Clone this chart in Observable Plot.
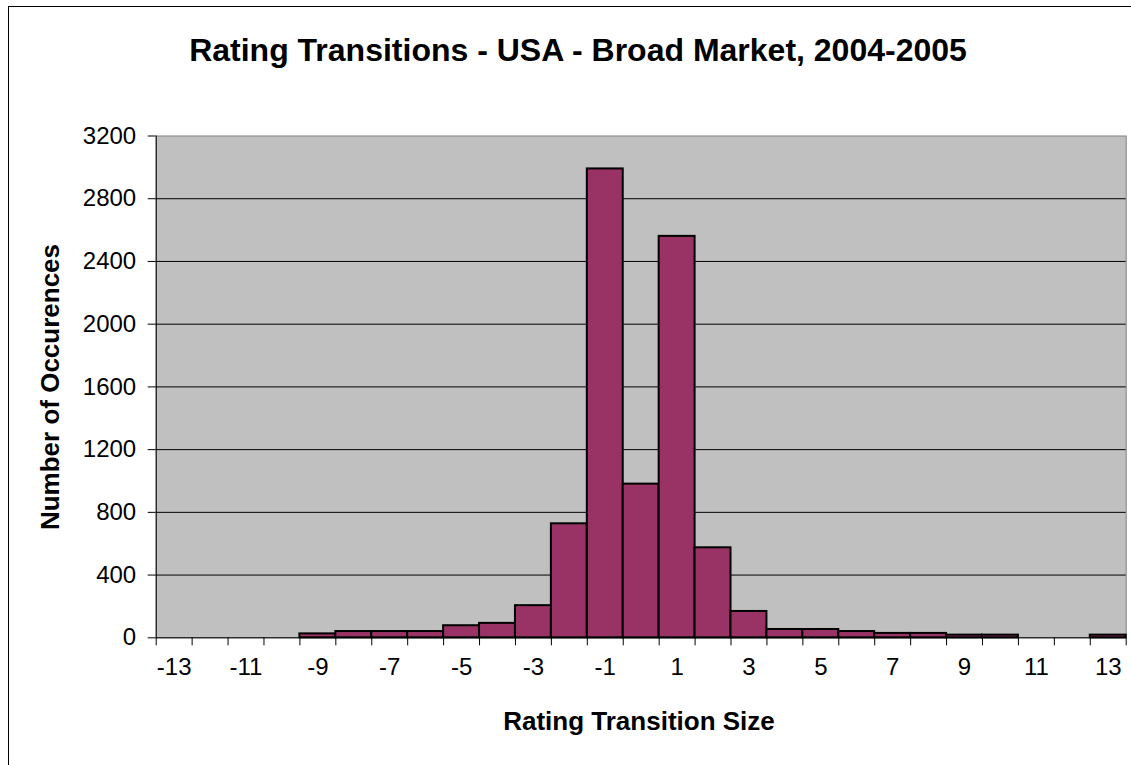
<!DOCTYPE html>
<html><head><meta charset="utf-8">
<script src="https://cdn.jsdelivr.net/npm/d3@7"></script>
<script src="https://cdn.jsdelivr.net/npm/@observablehq/plot@0.6"></script>
<style>
body{margin:0;background:#fff;font-family:"Liberation Sans",Arial,sans-serif;color:#000;}
#page{position:relative;width:1131px;height:765px;overflow:hidden;background:#fff;}
#frame{position:absolute;left:8px;top:6px;width:1300px;height:900px;border:1px solid #000;box-sizing:border-box;}
#title{position:absolute;left:0;top:0;width:1156px;height:100px;line-height:100px;text-align:center;font-weight:bold;font-size:32px;white-space:nowrap;}
#chart{position:absolute;left:0;top:100px;}
#xlabel{position:absolute;left:0;top:700px;width:1278px;height:42px;line-height:42px;text-align:center;font-weight:bold;font-size:26px;white-space:nowrap;}
#ylabel{position:absolute;left:-150px;top:367px;width:400px;height:40px;line-height:40px;text-align:center;font-weight:bold;font-size:26px;transform:rotate(-90deg);white-space:nowrap;}
</style>
</head><body>
<div id="page">
  <div id="frame"></div>
  <div id="title">Rating Transitions - USA - Broad Market, 2004-2005</div>
  <div id="chart"></div>
  <div id="xlabel">Rating Transition Size</div>
  <div id="ylabel">Number of Occurences</div>
</div>
<script>
const categories = [-13,-12,-11,-10,-9,-8,-7,-6,-5,-4,-3,-2,-1,0,1,2,3,4,5,6,7,8,9,10,11,12,13];
const occurrences = [0,0,0,0,25,40,40,40,77,92,205,727,2990,980,2560,574,168,53,53,40,28,28,17,17,0,0,17];
const xTickLabels = [-13,-11,-9,-7,-5,-3,-1,1,3,5,7,9,11,13];
const yTicks = [0,400,800,1200,1600,2000,2400,2800,3200];

const data = categories.map((c, i) => ({k: c, v: occurrences[i]}));
const boundaries = categories.map(c => c - 0.5).concat([categories[categories.length - 1] + 0.5]);

const chart = Plot.plot({
  width: 1131,
  height: 600,
  marginTop: 35.5,
  marginBottom: 62.7,
  marginLeft: 155.7,
  marginRight: 5.3,
  style: {fontFamily: "'Liberation Sans', Arial, sans-serif", fontSize: "24px", color: "#000", background: "transparent"},
  x: {domain: [boundaries[0], boundaries[boundaries.length - 1]]},
  y: {domain: [0, 3200]},
  marks: [
    Plot.frame({fill: "#c0c0c0", stroke: "#808080"}),
    Plot.ruleY(yTicks.filter(t => t > 0 && t < 3200), {stroke: "#000", strokeWidth: 1}),
    Plot.rectY(data.filter(d => d.v > 0), {x1: d => d.k - 0.5, x2: d => d.k + 0.5, y: "v", fill: "#993366", stroke: "#000", strokeWidth: 2}),
    Plot.ruleY([0], {stroke: "#000", strokeWidth: 1}),
    Plot.ruleX([boundaries[0]], {stroke: "#000", strokeWidth: 1}),
    Plot.axisY({ticks: yTicks, tickSize: 8, tickPadding: 12, label: null, fontSize: 24, tickFormat: d => String(d)}),
    Plot.axisX({ticks: boundaries, tickSize: 8, tickFormat: () => "", label: null}),
    Plot.axisX({ticks: xTickLabels, tickSize: 0, tickPadding: 20, label: null, fontSize: 24, tickFormat: d => String(d)})
  ]
});
document.getElementById("chart").appendChild(chart);
</script>
</body></html>
